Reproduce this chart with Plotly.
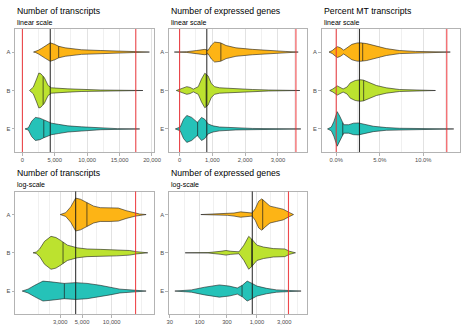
import numpy as np
import plotly.graph_objects as go

W, H = 474, 331
FONT = "Liberation Sans"

groups = ["A", "B", "E"]
group_pos = [3, 2, 1]
group_colors = ["#FDB415", "#BCE22F", "#25C2B8"]

# ---------- Number of transcripts (linear): density profile (value, half-width) ----------
tx_lin_A_v = [1720, 2000, 2440, 3000, 3600, 4300, 5000, 5600, 6600, 9100, 12100, 14650, 17200, 19600]
tx_lin_A_w = [0, 0.01, 0.045, 0.10, 0.17, 0.24, 0.20, 0.15, 0.11, 0.06, 0.04, 0.025, 0.012, 0]
tx_lin_B_v = [1100, 1680, 2190, 2540, 2850, 3400, 3970, 4480, 7020, 9060, 12100, 18600]
tx_lin_B_w = [0, 0.087, 0.30, 0.455, 0.435, 0.33, 0.13, 0.07, 0.043, 0.026, 0.013, 0]
tx_lin_E_v = [400, 920, 1430, 2000, 2700, 3300, 4480, 5550, 7020, 9100, 12100, 14650, 18100]
tx_lin_E_w = [0, 0.03, 0.20, 0.30, 0.28, 0.23, 0.15, 0.12, 0.08, 0.055, 0.02, 0.008, 0]

# ---------- Number of expressed genes (linear) ----------
ge_lin_A_v = [-160, 220, 520, 770, 870, 970, 1070, 1250, 1420, 1720, 2220, 2720, 3220, 3620]
ge_lin_A_w = [0, 0.01, 0.04, 0.07, 0.045, 0.18, 0.26, 0.24, 0.17, 0.11, 0.07, 0.035, 0.017, 0]
ge_lin_B_v = [-100, 70, 220, 320, 420, 570, 670, 770, 870, 970, 1070, 1220, 1720, 2220, 2720, 3670]
ge_lin_B_w = [0, 0.05, 0.10, 0.08, 0.035, 0.10, 0.30, 0.45, 0.38, 0.18, 0.10, 0.07, 0.043, 0.026, 0.013, 0]
ge_lin_E_v = [-130, 20, 120, 220, 370, 540, 670, 770, 870, 1020, 1220, 1720, 2220, 3700]
ge_lin_E_w = [0, 0.05, 0.25, 0.35, 0.30, 0.17, 0.30, 0.25, 0.13, 0.08, 0.05, 0.026, 0.013, 0]

# ---------- Percent MT transcripts (linear, %) ----------
mt_A_v = [-0.83, -0.45, -0.08, 0.15, 0.49, 0.86, 1.24, 1.8, 2.37, 2.8, 3.5, 4.62, 5.75, 7.26, 9.1, 13.1]
mt_A_w = [0, 0.04, 0.11, 0.14, 0.11, 0.05, 0.11, 0.20, 0.235, 0.24, 0.22, 0.16, 0.09, 0.04, 0.017, 0]
mt_B_v = [-0.75, -0.38, 0.11, 0.41, 0.79, 1.24, 1.62, 2.18, 2.74, 3.12, 3.87, 4.62, 5.75, 7.26, 11.4]
mt_B_w = [0, 0.04, 0.12, 0.09, 0.04, 0.09, 0.20, 0.26, 0.28, 0.27, 0.20, 0.13, 0.07, 0.026, 0]
mt_E_v = [-1.0, -0.56, -0.26, 0.11, 0.41, 0.86, 1.43, 2.0, 2.56, 3.12, 4.25, 5.75, 7.26, 13.5]
mt_E_w = [0, 0.05, 0.20, 0.45, 0.33, 0.11, 0.11, 0.15, 0.155, 0.13, 0.07, 0.035, 0.017, 0]

# ---------- Number of transcripts (log scale) ----------
tx_log_A_v = [3000, 3410, 3830, 4300, 4820, 5710, 6560, 7640, 9620, 11670, 14130, 17500, 19190, 22390]
tx_log_A_w = [0, 0.05, 0.20, 0.43, 0.40, 0.30, 0.22, 0.18, 0.18, 0.17, 0.10, 0.04, 0.015, 0]
tx_log_B_v = [1585, 1710, 1850, 2075, 2415, 2710, 3000, 3550, 4470, 5620, 7640, 11220, 15240, 17780, 23280]
tx_log_B_w = [0, 0.02, 0.10, 0.30, 0.43, 0.40, 0.33, 0.20, 0.13, 0.10, 0.09, 0.08, 0.06, 0.03, 0]
tx_log_E_v = [1230, 1410, 1650, 2000, 2415, 3290, 4300, 5620, 7640, 9620, 12110, 16480, 22390]
tx_log_E_w = [0, 0.05, 0.15, 0.26, 0.24, 0.20, 0.22, 0.20, 0.15, 0.10, 0.05, 0.025, 0]

# ---------- Number of expressed genes (log scale) ----------
ge_log_A_v = [105, 307, 398, 519, 676, 822, 933, 1072, 1216, 1380, 1690, 2200, 2860, 3720, 4345]
ge_log_A_w = [0, 0.02, 0.04, 0.07, 0.06, 0.04, 0.15, 0.35, 0.41, 0.33, 0.22, 0.18, 0.14, 0.05, 0]
ge_log_B_v = [56, 140, 236, 288, 350, 486, 592, 719, 822, 1000, 1300, 1928, 3048, 3720, 4700]
ge_log_B_w = [0, 0.005, 0.04, 0.06, 0.04, 0.025, 0.20, 0.43, 0.35, 0.20, 0.15, 0.11, 0.10, 0.04, 0]
ge_log_E_v = [37, 72, 122, 221, 328, 455, 555, 676, 822, 1000, 1479, 2198, 3715, 5890]
ge_log_E_w = [0, 0.03, 0.10, 0.16, 0.13, 0.08, 0.15, 0.26, 0.20, 0.13, 0.07, 0.03, 0.013, 0]

# ---------- Medians and thresholds ----------
tx_group_medians = [5600, 3200, 3300]
ge_group_medians = [1260, 810, 550]
mt_group_medians = [3.04, 3.15, 0.75]
tx_overall_median = 4300
ge_overall_median = 830
mt_overall_median = 2.67
tx_thresholds = [0, 17500]
ge_thresholds = [0, 3550]
mt_thresholds = [0, 12.7]

# ---------- Axis ticks ----------
tx_lin_ticks = [0, 5000, 10000, 15000, 20000]
tx_lin_labels = ["0", "5,000", "10,000", "15,000", "20,000"]
tx_lin_minor = [2500, 7500, 12500, 17500]
ge_lin_ticks = [0, 1000, 2000, 3000]
ge_lin_labels = ["0", "1,000", "2,000", "3,000"]
ge_lin_minor = [500, 1500, 2500, 3500]
mt_ticks = [0, 5, 10]
mt_labels = ["0.0%", "5.0%", "10.0%"]
mt_minor = [2.5, 7.5, 12.5]
tx_log_ticks = [3000, 5000, 10000]
tx_log_labels = ["3,000", "5,000", "10,000"]
tx_log_minor = [1800, 2324, 3873, 7071, 14142, 20000]
ge_log_ticks = [30, 100, 300, 1000, 3000]
ge_log_labels = ["30", "100", "300", "1,000", "3,000"]
ge_log_minor = [54.8, 173, 548, 1732, 5196]

titles = ["Number of transcripts", "Number of expressed genes", "Percent MT transcripts",
          "Number of transcripts", "Number of expressed genes"]
subtitles = ["linear scale", "linear scale", "linear scale", "log-scale", "log-scale"]

# ---------- layout geometry (pixels) ----------
col_x = [(13.4, 155.2), (170.0, 311.3), (325.7, 466.7), (13.4, 155.2), (170.0, 311.3)]
row_y = [(29.0, 152.0)] * 3 + [(191.6, 314.0)] * 2
x_ranges = [(-1120, 20350), (-330, 3900), (-1.69, 14.2), (3.018, 4.433), (1.462, 3.880)]
title_y = [10.8] * 3 + [173.3] * 2
sub_y = [22.6] * 3 + [184.6] * 2

panels = [
    dict(profiles=[(tx_lin_A_v, tx_lin_A_w), (tx_lin_B_v, tx_lin_B_w), (tx_lin_E_v, tx_lin_E_w)],
         meds=tx_group_medians, overall=tx_overall_median, thr=tx_thresholds,
         ticks=tx_lin_ticks, labels=tx_lin_labels, minor=tx_lin_minor, log=False),
    dict(profiles=[(ge_lin_A_v, ge_lin_A_w), (ge_lin_B_v, ge_lin_B_w), (ge_lin_E_v, ge_lin_E_w)],
         meds=ge_group_medians, overall=ge_overall_median, thr=ge_thresholds,
         ticks=ge_lin_ticks, labels=ge_lin_labels, minor=ge_lin_minor, log=False),
    dict(profiles=[(mt_A_v, mt_A_w), (mt_B_v, mt_B_w), (mt_E_v, mt_E_w)],
         meds=mt_group_medians, overall=mt_overall_median, thr=mt_thresholds,
         ticks=mt_ticks, labels=mt_labels, minor=mt_minor, log=False),
    dict(profiles=[(tx_log_A_v, tx_log_A_w), (tx_log_B_v, tx_log_B_w), (tx_log_E_v, tx_log_E_w)],
         meds=tx_group_medians, overall=tx_overall_median, thr=tx_thresholds,
         ticks=tx_log_ticks, labels=tx_log_labels, minor=tx_log_minor, log=True),
    dict(profiles=[(ge_log_A_v, ge_log_A_w), (ge_log_B_v, ge_log_B_w), (ge_log_E_v, ge_log_E_w)],
         meds=ge_group_medians, overall=ge_overall_median, thr=ge_thresholds,
         ticks=ge_log_ticks, labels=ge_log_labels, minor=ge_log_minor, log=True),
]

OUTLINE = "#1f1f1f"
fig = go.Figure()
shapes = []
annotations = []
layout = {}

for i, p in enumerate(panels):
    n = i + 1
    xa = "x" if n == 1 else f"x{n}"
    ya = "y" if n == 1 else f"y{n}"
    xkey = "xaxis" if n == 1 else f"xaxis{n}"
    ykey = "yaxis" if n == 1 else f"yaxis{n}"

    for (v, w), c, col, med in zip(p["profiles"], group_pos, group_colors, p["meds"]):
        v = np.array(v, float)
        w = np.array(w, float)
        xs = np.concatenate([v, v[::-1], v[:1]])
        ys = np.concatenate([c + w, (c - w)[::-1], [c + w[0]]])
        fig.add_trace(go.Scatter(x=xs, y=ys, mode="lines", fill="toself", fillcolor=col,
                                 line=dict(color=OUTLINE, width=0.6), xaxis=xa, yaxis=ya,
                                 hoverinfo="skip", showlegend=False))
        if p["log"]:
            hw = np.interp(np.log10(med), np.log10(v), w)
        else:
            hw = np.interp(med, v, w)
        fig.add_trace(go.Scatter(x=[med, med], y=[c - hw, c + hw], mode="lines",
                                 line=dict(color=OUTLINE, width=0.7), xaxis=xa, yaxis=ya,
                                 hoverinfo="skip", showlegend=False))

    lo, hi = x_ranges[i]
    for t in p["thr"]:
        if p["log"] and t <= 0:
            continue
        shapes.append(dict(type="line", xref=xa, yref=f"{ya} domain", x0=t, x1=t, y0=0, y1=1,
                           line=dict(color="rgba(235,40,45,0.85)", width=1.1), layer="above"))
    shapes.append(dict(type="line", xref=xa, yref=f"{ya} domain", x0=p["overall"], x1=p["overall"],
                       y0=0, y1=1, line=dict(color="rgba(20,20,20,0.85)", width=1.1), layer="above"))

    x0, x1 = col_x[i]
    y0, y1 = row_y[i]
    layout[xkey] = dict(
        domain=[x0 / W, x1 / W], range=[lo, hi], type="log" if p["log"] else "linear",
        anchor=ya, tickmode="array", tickvals=p["ticks"], ticktext=p["labels"],
        ticks="outside", ticklen=2.5, tickwidth=0.8, tickcolor="#b3b3b3",
        tickfont=dict(size=5.8, color="#4d4d4d", family=FONT),
        showgrid=True, gridcolor="#e2e2e2", gridwidth=0.6,
        minor=dict(tickmode="array", tickvals=p["minor"], showgrid=True, gridcolor="#f0f0f0",
                   gridwidth=0.4, ticks=""),
        showline=True, linecolor="#b3b3b3", linewidth=1, mirror=True, zeroline=False,
        fixedrange=True,
    )
    layout[ykey] = dict(
        domain=[1 - y1 / H, 1 - y0 / H], range=[0.4, 3.6], anchor=xa,
        tickmode="array", tickvals=group_pos, ticktext=groups,
        ticks="outside", ticklen=2.5, tickwidth=0.8, tickcolor="#b3b3b3",
        tickfont=dict(size=5.8, color="#4d4d4d", family=FONT),
        showgrid=False, showline=True, linecolor="#b3b3b3", linewidth=1, mirror=True,
        zeroline=False, fixedrange=True,
    )
    annotations.append(dict(text=titles[i], xref="paper", yref="paper", x=x0 / W, y=1 - title_y[i] / H,
                            xanchor="left", yanchor="middle", showarrow=False,
                            font=dict(size=8.7, color="black", family=FONT)))
    annotations.append(dict(text=subtitles[i], xref="paper", yref="paper", x=x0 / W, y=1 - sub_y[i] / H,
                            xanchor="left", yanchor="middle", showarrow=False,
                            font=dict(size=7, color="black", family=FONT)))

fig.update_layout(
    width=W, height=H, margin=dict(l=0, r=0, t=0, b=0),
    paper_bgcolor="white", plot_bgcolor="white", showlegend=False,
    shapes=shapes, annotations=annotations, font=dict(family=FONT), **layout,
)
fig.write_html("out.html", config={"displayModeBar": False})
